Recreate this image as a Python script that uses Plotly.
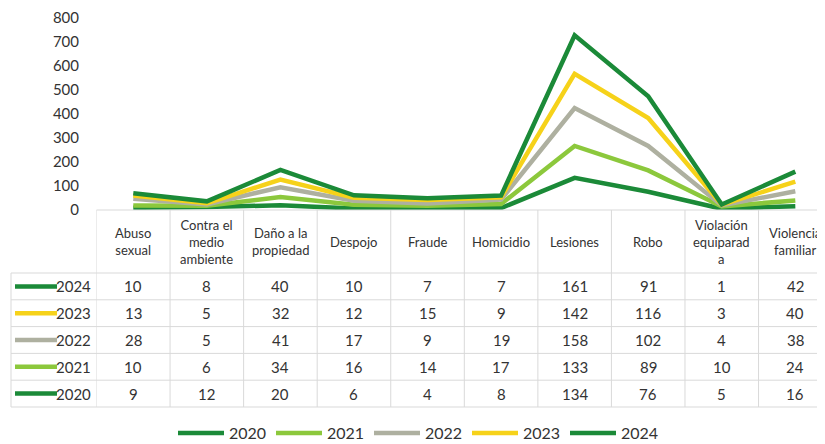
import plotly.graph_objects as go

categories = ["Abuso<br>sexual", "Contra el<br>medio<br>ambiente", "Daño a la<br>propiedad", "Despojo",
              "Fraude", "Homicidio", "Lesiones", "Robo", "Violación<br>equiparad<br>a", "Violencia<br>familiar"]
years = ["2020", "2021", "2022", "2023", "2024"]
v2020 = [9, 12, 20, 6, 4, 8, 134, 76, 5, 16]
v2021 = [10, 6, 34, 16, 14, 17, 133, 89, 10, 24]
v2022 = [28, 5, 41, 17, 9, 19, 158, 102, 4, 38]
v2023 = [13, 5, 32, 12, 15, 9, 142, 116, 3, 40]
v2024 = [10, 8, 40, 10, 7, 7, 161, 91, 1, 42]
series = [v2020, v2021, v2022, v2023, v2024]
colors = ["#1b8a38", "#8cc83c", "#aeb0a0", "#f6d21a", "#1b8a38"]
yticks = [0, 100, 200, 300, 400, 500, 600, 700, 800]

OFF = 8  # page body margin
W, H = 825 - OFF, 444 - OFF
TXT = "#333333"
FONT = "Lato"
GRID = "#d9d9d9"

def px(p):
    return (p - OFF) / W

def py(p):
    return 1 - (p - OFF) / H

x_left_px = 96.5
col_w = 73.56
xs = list(range(len(categories)))

fig = go.Figure()
for yr, vals, col in zip(years, series, colors):
    fig.add_trace(go.Scatter(x=xs, y=vals, name=yr, mode="lines", stackgroup="one", fill="none",
                             line=dict(color=col, width=4.5), hoverinfo="skip"))

# table geometry
table_top = 210
header_bottom = 273
row_h = 26.8
row_years = years[::-1]
row_series = series[::-1]
row_colors = colors[::-1]

shapes = []
annotations = []
shapes.append(dict(type="line", xref="paper", yref="paper", x0=px(x_left_px), x1=1,
                   y0=py(table_top), y1=py(table_top), line=dict(color=GRID, width=1)))
for r in range(len(row_years) + 1):
    yy = header_bottom + r * row_h
    shapes.append(dict(type="line", xref="paper", yref="paper", x0=px(11), x1=1,
                       y0=py(yy), y1=py(yy), line=dict(color=GRID, width=1)))
table_bottom = header_bottom + len(row_years) * row_h
shapes.append(dict(type="line", xref="paper", yref="paper", x0=px(11), x1=px(11),
                   y0=py(header_bottom), y1=py(table_bottom), line=dict(color=GRID, width=1)))
for i in range(len(categories)):
    shapes.append(dict(type="line", xref="x", yref="paper", x0=i - 0.5, x1=i - 0.5,
                       y0=py(table_top), y1=py(table_bottom), line=dict(color=GRID, width=1)))

for i, c in enumerate(categories):
    annotations.append(dict(x=i, xref="x", y=py((table_top + header_bottom) / 2), yref="paper",
                            text=c, showarrow=False, xanchor="center", yanchor="middle",
                            font=dict(family=FONT, size=13, color=TXT)))
for r, (yr, vals, col) in enumerate(zip(row_years, row_series, row_colors)):
    yc = header_bottom + (r + 0.5) * row_h
    shapes.append(dict(type="line", xref="paper", yref="paper", x0=px(15), x1=px(57),
                       y0=py(yc), y1=py(yc), line=dict(color=col, width=4.5)))
    annotations.append(dict(x=px(93), xref="paper", y=py(yc), yref="paper", text=yr, showarrow=False,
                            xanchor="right", yanchor="middle", font=dict(family=FONT, size=15, color=TXT)))
    for i, v in enumerate(vals):
        annotations.append(dict(x=i, xref="x", y=py(yc), yref="paper", text=str(v), showarrow=False,
                                xanchor="center", yanchor="middle",
                                font=dict(family=FONT, size=15, color=TXT)))

fig.update_layout(
    width=W, height=H,
    margin=dict(l=0, r=0, t=0, b=0, autoexpand=False),
    paper_bgcolor="white", plot_bgcolor="white",
    shapes=shapes, annotations=annotations,
    xaxis=dict(domain=[px(x_left_px), 1], range=[-0.5, -0.5 + (825 - x_left_px) / col_w],
               visible=False, fixedrange=True),
    yaxis=dict(domain=[py(210), py(18)], range=[0, 800], tickvals=yticks,
               showgrid=False, zeroline=False, showline=False, anchor="free", position=px(79),
               tickfont=dict(family=FONT, size=15, color=TXT), ticks="", ticklabeloverflow="allow"),
    showlegend=True,
    legend=dict(orientation="h", x=px(418), xanchor="center", y=py(433), yanchor="middle",
                font=dict(family=FONT, size=16, color=TXT), itemwidth=46, entrywidth=37,
                bgcolor="rgba(0,0,0,0)", traceorder="normal"),
)

fig.write_html("out.html")
